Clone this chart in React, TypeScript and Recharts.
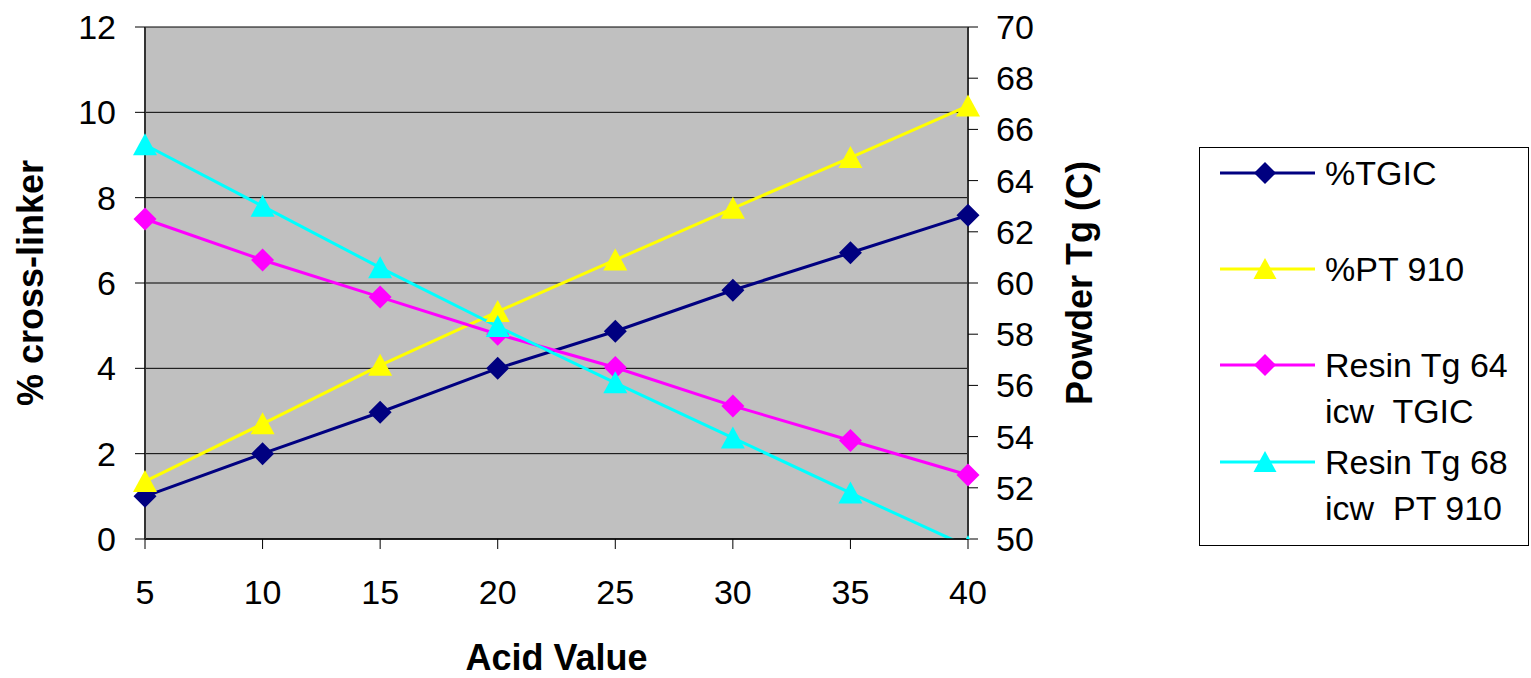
import React from "react";
import { LineChart, Line, XAxis, YAxis, CartesianGrid, Legend } from "recharts";

const acidValues = [5, 10, 15, 20, 25, 30, 35, 40];
const tgic = [1.0, 2.0, 2.97, 4.0, 4.87, 5.83, 6.71, 7.59];
const pt910 = [1.35, 2.7, 4.07, 5.33, 6.54, 7.75, 8.94, 10.15];
const resin64 = [62.5, 60.9, 59.45, 58.0, 56.7, 55.2, 53.85, 52.5];
const resin68 = [65.4, 63.0, 60.6, 58.3, 56.1, 53.95, 51.8, 49.7];

const leftTicks = [0, 2, 4, 6, 8, 10, 12];
const rightTicks = [50, 52, 54, 56, 58, 60, 62, 64, 66, 68, 70];

const data = acidValues.map((a, i) => ({
  acid: a,
  tgic: tgic[i],
  pt910: pt910[i],
  resin64: resin64[i],
  resin68: resin68[i],
}));

const FONT = "'Liberation Sans', Arial, sans-serif";
const TICK = { fontSize: 34, fill: "#000", fontFamily: FONT };
const TITLE = { fontSize: 36, fontWeight: "bold", fill: "#000", fontFamily: FONT, textAnchor: "middle" } as any;

const diamond = (color: string, r = 11.5) => (props: any) => {
  const { cx, cy, index } = props;
  if (cx == null || cy == null) return null;
  return <path key={index} d={`M${cx},${cy - r}L${cx + r},${cy}L${cx},${cy + r}L${cx - r},${cy}Z`} fill={color} />;
};

const triangle = (color: string, r = 11.5) => (props: any) => {
  const { cx, cy, index } = props;
  if (cx == null || cy == null) return null;
  return <path key={index} d={`M${cx},${cy - r}L${cx + r + 0.5},${cy + r - 1}L${cx - r - 0.5},${cy + r - 1}Z`} fill={color} />;
};

const series = [
  { key: "tgic", name: "%TGIC", color: "#000080", axis: "left", shape: "diamond", lines: ["%TGIC"] },
  { key: "pt910", name: "%PT 910", color: "#FFFF00", axis: "left", shape: "triangle", lines: ["%PT 910"] },
  { key: "resin64", name: "Resin Tg 64 icw TGIC", color: "#FF00FF", axis: "right", shape: "diamond", lines: ["Resin Tg 64", "icw  TGIC"] },
  { key: "resin68", name: "Resin Tg 68 icw PT 910", color: "#00FFFF", axis: "right", shape: "triangle", lines: ["Resin Tg 68", "icw  PT 910"] },
];

const legendRows = [26, 122, 218, 315];

function LegendBox() {
  return (
    <svg width={330} height={399} style={{ display: "block" }}>
      <rect x={0.5} y={0.5} width={329} height={398} fill="#fff" stroke="#000" />
      {series.map((s, i) => {
        const y = legendRows[i];
        const marker = s.shape === "diamond" ? diamond(s.color, 11)({ cx: 66, cy: y }) : triangle(s.color, 11)({ cx: 66, cy: y });
        return (
          <g key={s.key}>
            <line x1={21} x2={116} y1={y} y2={y} stroke={s.color} strokeWidth={3} />
            {marker}
            {s.lines.map((t, j) => (
              <text key={j} x={126} y={y + j * 46} dy={12} fontSize={34} fontFamily={FONT} fill="#000" style={{ whiteSpace: "pre" }}>
                {t}
              </text>
            ))}
          </g>
        );
      })}
    </svg>
  );
}

export default function App() {
  return (
    <div style={{ position: "absolute", left: 0, top: 0, width: 1531, height: 678, background: "#fff", fontFamily: FONT }}>
      <LineChart width={1531} height={678} data={data} margin={{ top: 27, right: 101, bottom: 0, left: 0 }}>
        <CartesianGrid yAxisId="left" vertical={false} stroke="#000" strokeWidth={1} fill="#C0C0C0" fillOpacity={1} />
        <XAxis
          dataKey="acid"
          type="number"
          domain={[5, 40]}
          ticks={acidValues}
          height={139}
          tickSize={10}
          tickMargin={31}
          tick={TICK}
          axisLine={{ stroke: "#000", strokeWidth: 1.5 }}
          tickLine={{ stroke: "#000" }}
          label={{ value: "Acid Value", position: "insideBottom", offset: 8, style: TITLE }}
        />
        <YAxis
          yAxisId="left"
          orientation="left"
          domain={[0, 12]}
          ticks={leftTicks}
          width={145}
          tickSize={10}
          tickMargin={19}
          tick={TICK}
          axisLine={{ stroke: "#333", strokeWidth: 2 }}
          tickLine={{ stroke: "#000" }}
          label={{ value: "% cross-linker", angle: -90, position: "insideLeft", offset: 30, textAnchor: "middle", style: TITLE }}
        />
        <YAxis
          yAxisId="right"
          orientation="right"
          domain={[50, 70]}
          ticks={rightTicks}
          allowDataOverflow
          width={130}
          tickSize={10}
          tickMargin={18}
          tick={TICK}
          axisLine={{ stroke: "#333", strokeWidth: 2 }}
          tickLine={{ stroke: "#000" }}
          label={{ value: "Powder Tg (C)", angle: -90, position: "insideRight", offset: 19, textAnchor: "middle", style: TITLE }}
        />
        <Legend
          layout="vertical"
          align="right"
          verticalAlign="middle"
          content={() => <LegendBox />}
          wrapperStyle={{ left: 1199, right: "auto", top: 147, width: 332, height: 400 }}
        />
        {series.map((s) => (
          <Line
            key={s.key}
            yAxisId={s.axis}
            dataKey={s.key}
            name={s.name}
            type="linear"
            stroke={s.color}
            strokeWidth={3}
            dot={s.shape === "diamond" ? diamond(s.color) : triangle(s.color)}
            activeDot={false}
            isAnimationActive={false}
          />
        ))}
      </LineChart>
    </div>
  );
}
